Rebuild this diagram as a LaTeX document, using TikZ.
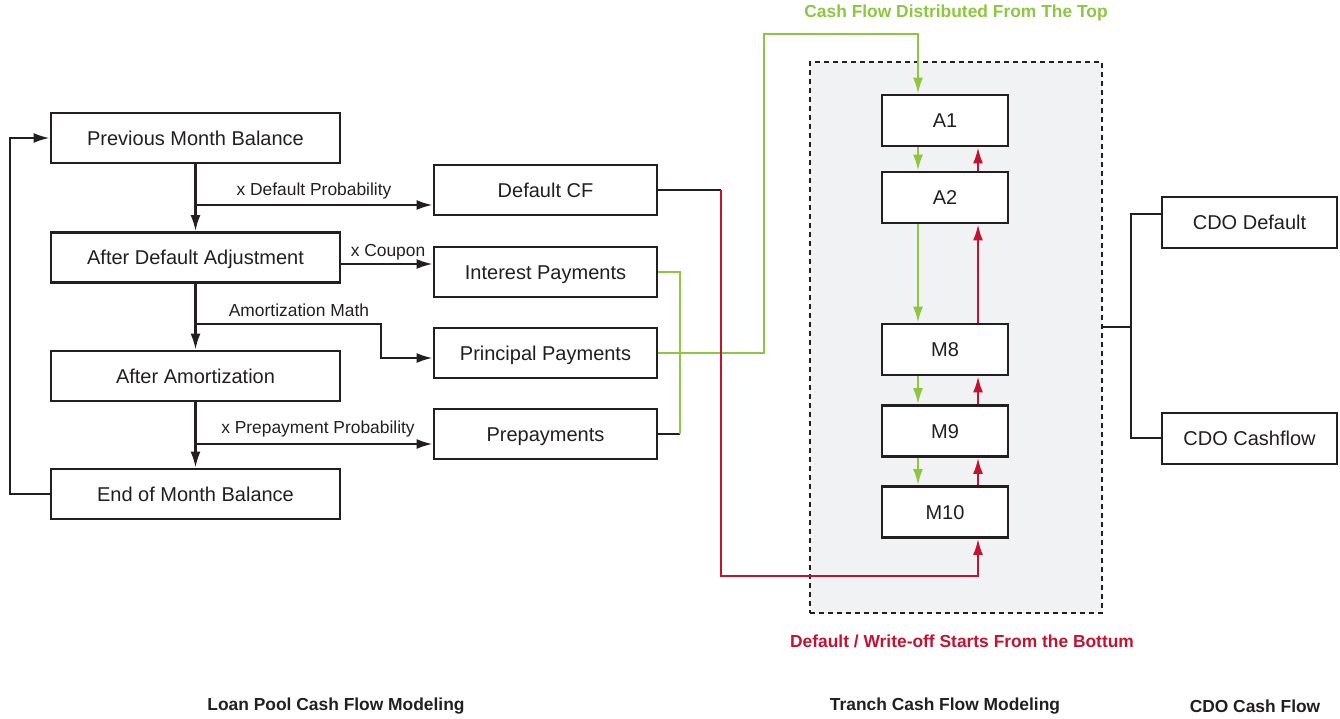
\documentclass[tikz,border=0pt]{standalone}
\usepackage{fontspec}
\setmainfont{Liberation Sans}
\usetikzlibrary{arrows.meta}
\definecolor{cgreen}{RGB}{141,198,63}
\definecolor{cred}{RGB}{196,18,48}
\definecolor{cgray}{RGB}{241,242,244}
\definecolor{cink}{RGB}{35,31,32}
\begin{document}
\begin{tikzpicture}[x=1pt,y=-1pt,
  box/.style={draw=cink, line width=2.8pt, fill=white, text=cink, inner sep=0pt,
    font=\fontsize{20}{23}\selectfont, text height=14.3pt, text depth=0pt},
  lbox/.style={box, minimum width=289pt, minimum height=50pt},
  mbox/.style={box, minimum width=223pt, minimum height=50pt},
  tbox/.style={box, minimum width=126pt, minimum height=51pt},
  cbox/.style={box, minimum width=175pt, minimum height=51pt},
  conn/.style={draw=cink, line width=2.2pt},
  tip/.style={-{Latex[length=16pt,width=10pt]}},
  arr/.style={conn, tip},
  garr/.style={draw=cgreen, line width=2.2pt, tip},
  rarr/.style={draw=cred, line width=2.2pt, tip},
  lab/.style={text=cink, font=\fontsize{17.4}{20}\selectfont, inner sep=0pt},
  blab/.style={inner sep=0pt, font=\bfseries\fontsize{17.4}{20}\selectfont}
]
\useasboundingbox (0,0) rectangle (1340,719);

% tranche background
\node[draw=cink, line width=2.6pt, dash pattern=on 5pt off 4pt, fill=cgray,
  minimum width=292pt, minimum height=551pt, inner sep=0pt] (tr) at (956,337.5) {};

% left column
\node[lbox] (prev) at (195.5,138) {Previous Month Balance};
\node[lbox] (adj)  at (195.5,257.5) {After Default Adjustment};
\node[lbox] (amo)  at (195.5,376) {After Amortization};
\node[lbox] (eom)  at (195.5,494) {End of Month Balance};

% middle column
\node[mbox] (dcf) at (545.5,190) {Default CF};
\node[mbox] (ip)  at (545.5,272) {Interest Payments};
\node[mbox] (pp)  at (545.5,353) {Principal Payments};
\node[mbox] (pre) at (545.5,434) {Prepayments};

% tranches
\node[tbox] (a1)  at (945,120.5) {A1};
\node[tbox] (a2)  at (945,197.5) {A2};
\node[tbox] (m8)  at (945,349.5) {M8};
\node[tbox] (m9)  at (945,431) {M9};
\node[tbox] (m10) at (945,512) {M10};

% CDO
\node[cbox] (cdod) at (1249.5,222.5) {CDO Default};
\node[cbox] (cdoc) at (1249.5,438.5) {CDO Cashflow};

% trunk
\draw[arr] (prev) -- (adj);
\draw[arr] (adj) -- (amo);
\draw[arr] (amo) -- (eom);

\coordinate (j1) at (196,205);
\coordinate (j2) at (340,264);
\coordinate (j3) at (196,324);
\coordinate (j4) at (196,444);
\draw[arr] (j1) -- (j1 -| dcf.west);
\draw[arr] (j2) -- (j2 -| ip.west);
\draw[arr] (j3) -- (381,324) -- (381,358) -- (pp.west |- 0,358);
\draw[arr] (j4) -- (j4 -| pre.west);

\node[lab] (l1) at (314,191) {x Default Probability};
\node[lab] (l2) at (388,252) {x Coupon};
\node[lab] (l3) at (299,310) {Amortization Math};
\node[lab] (l4) at (318,429) {x Prepayment Probability};

% feedback loop
\draw[arr] (eom.west) -- (10,494) -- (10,138) -- (prev.west);

% green cash flow
\draw[conn] (pre.east) -- (680,434);
\draw[draw=cgreen, line width=2.2pt] (ip.east) -- (680,272) -- (680,434);
\draw[garr] (pp.east) -- (764,353) -- (764,34) -- (918,34) -- (a1.north -| 918,0);

% red default flow
\draw[conn] (dcf.east) -- (721,190);
\draw[rarr] (721,190) -- (721,576) -- (978,576) -- (m10.south -| 978,0);

% tranche arrows
\foreach \u/\l in {a1/a2, a2/m8, m8/m9, m9/m10}{
  \draw[garr] (\u.south -| 918,0) -- (\l.north -| 918,0);
  \draw[rarr] (\l.north -| 978,0) -- (\u.south -| 978,0);
}

% CDO bracket
\coordinate (br) at (1131,327);
\coordinate (bt) at (1131,214);
\coordinate (bb) at (1131,438);
\draw[conn] (tr.east |- br) -- (br);
\draw[conn] (bt -| cdod.west) -- (bt) -- (bb) -- (bb -| cdoc.west);

% titles
\node[blab, text=cgreen] (tg) at (956,13) {Cash Flow Distributed From The Top};
\node[blab, text=cred] (trd) at (962,641) {Default / Write-off Starts From the Bottum};
\node[blab, text=cink] (b1) at (336,706) {Loan Pool Cash Flow Modeling};
\node[blab, text=cink] (b2) at (945,706) {Tranch Cash Flow Modeling};
\node[blab, text=cink] (b3) at (1255,706) {CDO Cash Flow};
\end{tikzpicture}
\end{document}
